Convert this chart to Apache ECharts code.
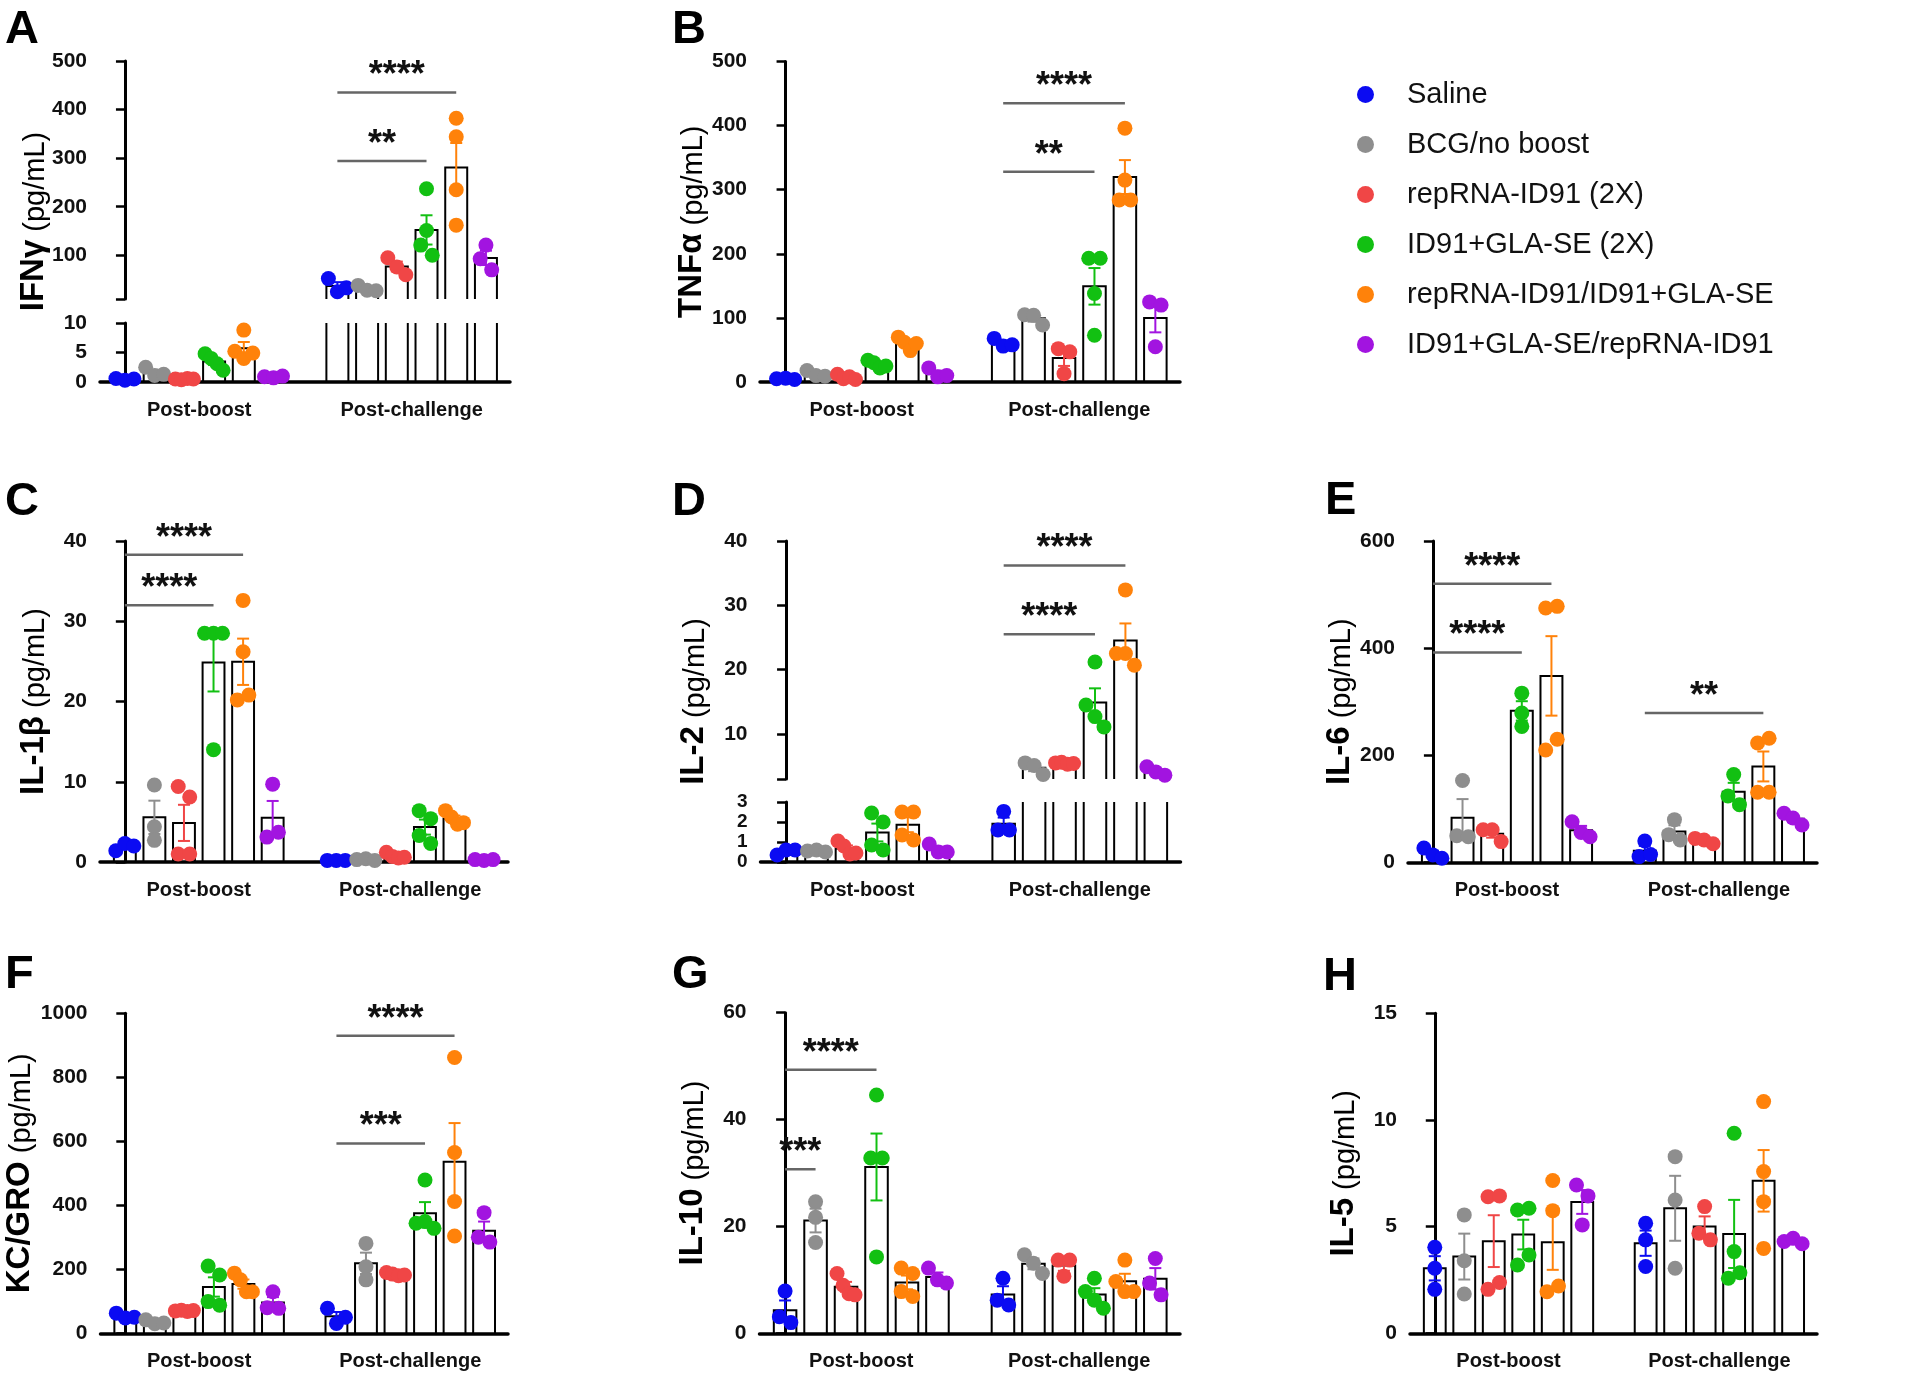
<!DOCTYPE html>
<html><head><meta charset="utf-8">
<script src="https://cdn.jsdelivr.net/npm/echarts@6/dist/echarts.min.js"></script>
<style>html,body{margin:0;padding:0;background:#fff}#c{width:1920px;height:1383px}</style>
</head><body><div id="c"></div>
<script>
// ---------------- DATA ----------------
const GROUPS = ['Saline', 'BCG/no boost', 'repRNA-ID91 (2X)', 'ID91+GLA-SE (2X)', 'repRNA-ID91/ID91+GLA-SE', 'ID91+GLA-SE/repRNA-ID91'];
const TIMEPOINTS = ['Post-boost', 'Post-challenge'];

// A  IFNγ
const ifngBoost = [[0.6,0.3,0.5],[2.5,1.1,1.3],[0.5,0.4,0.6,0.5],[4.8,4.0,3.1,2.0],[8.8,5.2,4.0,4.9],[0.9,0.7,1.0]];
const ifngChallenge = [[52,25,33],[38,28,27],[95,76,60],[237,151,121,100],[382,344,235,162],[121,93,70]];
const ifngSig = [[1,0,4,435,'****'],[1,0,3,294,'**']]; // [timepoint, fromGroup, toGroup, height, label]
const ifngTicksUpper = [10,100,200,300,400,500], ifngLabelsUpper = [100,200,300,400,500];
const ifngTicksLower = [0,5,10];

// B  TNFα
const tnfBoost = [[5,6,4],[18,10,9],[12,5,8,4],[34,30,22,25],[70,62,49,60],[22,8,10]];
const tnfChallenge = [[68,56,58],[105,104,89],[52,47,13],[193,193,138,73],[396,315,284,284],[125,120,55]];
const tnfSig = [[1,0,4,435,'****'],[1,0,3,328,'**']];
const tnfTicks = [0,100,200,300,400,500];

// C  IL-1β
const il1bBoost = [[1.4,2.3,2.0],[9.6,4.4,2.7],[9.4,8.1,1.0,1.0],[28.5,28.5,28.5,14.0],[32.6,26.2,20.2,20.8],[9.7,3.1,3.7]];
const il1bChallenge = [[0.2,0.2,0.2],[0.3,0.4,0.2],[1.2,0.7,0.5,0.6],[6.4,5.4,3.3,2.3],[6.4,5.6,4.7,4.9],[0.3,0.2,0.3]];
const il1bSig = [[0,0,4,38.3,'****'],[0,0,3,32.0,'****']];
const il1bTicks = [0,10,20,30,40];

// D  IL-2
const il2Boost = [[0.35,0.6,0.6],[0.55,0.6,0.5],[1.05,0.8,0.4,0.45],[2.45,2.0,0.85,0.6],[2.5,2.5,1.35,1.1],[0.9,0.5,0.5]];
const il2Challenge = [[2.53,1.6,1.6],[5.5,5.1,3.7],[5.5,5.6,5.3,5.4],[21.2,14.5,12.7,11.1],[32.4,22.5,22.5,20.7],[4.9,4.1,3.6]];
const il2Sig = [[1,0,4,36.2,'****'],[1,0,3,25.5,'****']];
const il2TicksUpper = [3,10,20,30,40], il2LabelsUpper = [10,20,30,40];
const il2TicksLower = [0,1,2,3];

// E  IL-6
const il6Boost = [[27,14,8],[153,50,48],[61,61,39],[316,279,254],[475,478,210,230],[76,56,48]];
const il6Challenge = [[40,11,15],[80,52,42],[45,42,35],[164,124,108],[223,232,131,131],[92,83,70]];
const il6Sig = [[0,0,4,520,'****'],[0,0,3,392,'****'],[1,0,4,279,'**']];
const il6Ticks = [0,200,400,600];

// F  KC/GRO
const kcBoost = [[63,48,50],[42,30,32],[70,72,68,71],[210,182,99,88],[188,167,130,130],[130,80,78]];
const kcChallenge = [[78,31,50],[281,208,167],[190,185,180,182],[479,344,349,328],[862,565,412,304],[377,300,285]];
const kcSig = [[1,0,4,930,'****'],[1,0,3,593,'***']];
const kcTicks = [0,200,400,600,800,1000];

// G  IL-10
const il10Boost = [[7.9,3.1,2.0],[24.6,21.7,17.0],[11.2,9.0,7.4,7.2],[44.6,32.8,32.8,14.3],[12.2,11.2,7.8,6.9],[12.2,10.0,9.4]];
const il10Challenge = [[10.3,6.2,5.3],[14.7,13.1,11.2],[13.7,13.7,10.7],[10.3,7.8,6.2,4.7],[13.7,9.7,7.8,7.8],[14.0,9.4,7.2]];
const il10Sig = [[0,0,3,49.3,'****'],[0,0,1,30.7,'***']];
const il10Ticks = [0,20,40,60];

// H  IL-5
const il5Boost = [[4.03,3.05,2.06],[5.55,3.4,1.84],[6.4,6.44,2.06,2.38],[5.78,5.86,3.2,3.67],[7.16,5.75,1.95,2.22],[6.95,6.44,5.08]];
const il5Challenge = [[5.16,4.38,3.13],[8.28,6.25,3.05],[5.94,4.69,4.38],[9.38,3.83,2.58,2.84],[10.86,7.58,6.17,3.98],[4.3,4.45,4.2]];
const il5Sig = [];
const il5Ticks = [0,5,10,15];

// ---------------- STYLE / LAYOUT ----------------
const FONT = '"Liberation Sans", Arial, Helvetica, sans-serif';
const COLORS = ['#0b0bf2', '#8e8e8e', '#f04646', '#12c012', '#ff820a', '#a214e0'];
const SLOT_GAP = 7.15, X_MIN = -0.84, X_MAX = 12.96, BAR_W = 0.74;
const DOT = 15, DOT_SPACING = 11.5, DOT_SPREAD = 18, DOT_OVERLAP = 12;

const PANELS = [
  {letter:'A', lx:5, ly:30, name:'IFNγ', left:100, right:510,
   segs:[{min:10,max:500,top:61,bottom:299,ticks:ifngTicksUpper,labels:ifngLabelsUpper},
         {min:0,max:10,top:323,bottom:382,ticks:ifngTicksLower,labels:ifngTicksLower}],
   boost:ifngBoost, challenge:ifngChallenge, sig:ifngSig},
  {letter:'B', lx:672, ly:30, name:'TNFα', left:760, right:1180,
   segs:[{min:0,max:500,top:61.5,bottom:382,ticks:tnfTicks,labels:tnfTicks}],
   boost:tnfBoost, challenge:tnfChallenge, sig:tnfSig},
  {letter:'C', lx:5, ly:502, name:'IL-1β', left:100, right:508,
   segs:[{min:0,max:40,top:541,bottom:862,ticks:il1bTicks,labels:il1bTicks}],
   boost:il1bBoost, challenge:il1bChallenge, sig:il1bSig},
  {letter:'D', lx:672, ly:502, name:'IL-2', left:760.5, right:1180.5,
   segs:[{min:3,max:40,top:541,bottom:779,ticks:il2TicksUpper,labels:il2LabelsUpper},
         {min:0,max:3,top:802,bottom:862,ticks:il2TicksLower,labels:il2TicksLower,labelSize:19}],
   boost:il2Boost, challenge:il2Challenge, sig:il2Sig},
  {letter:'E', lx:1325, ly:501, name:'IL-6', left:1408, right:1817,
   segs:[{min:0,max:600,top:541,bottom:862.5,ticks:il6Ticks,labels:il6Ticks}],
   boost:il6Boost, challenge:il6Challenge, sig:il6Sig},
  {letter:'F', lx:5, ly:975, name:'KC/GRO', left:100.5, right:508,
   segs:[{min:0,max:1000,top:1013.3,bottom:1333.3,ticks:kcTicks,labels:kcTicks}],
   boost:kcBoost, challenge:kcChallenge, sig:kcSig},
  {letter:'G', lx:672, ly:975, name:'IL-10', left:759.5, right:1180,
   segs:[{min:0,max:60,top:1012.7,bottom:1333.3,ticks:il10Ticks,labels:il10Ticks}],
   boost:il10Boost, challenge:il10Challenge, sig:il10Sig},
  {letter:'H', lx:1323, ly:977, name:'IL-5', left:1410, right:1817,
   segs:[{min:0,max:15,top:1013.3,bottom:1333.3,ticks:il5Ticks,labels:il5Ticks}],
   boost:il5Boost, challenge:il5Challenge, sig:il5Sig}
];

// ---------------- HELPERS ----------------
function stats(a){
  const n = a.length, m = a.reduce((s,v)=>s+v,0)/n;
  const sd = Math.sqrt(a.reduce((s,v)=>s+(v-m)*(v-m),0)/(n-1));
  return [m, sd/Math.sqrt(n)];
}
// spread overlapping dots sideways (pixel offsets), GraphPad-like
function jitter(py){
  const idx = py.map((p,i)=>i).sort((a,b)=>py[a]-py[b]);
  const off = new Array(py.length).fill(0);
  let cluster = [idx[0]];
  const flush = () => {
    const k = cluster.length;
    const sp = k > 1 ? Math.min(DOT_SPACING, DOT_SPREAD/(k-1)) : 0;
    cluster.slice().sort((a,b)=>a-b).forEach((id,j)=>{ off[id] = (j-(k-1)/2)*sp; });
  };
  for (let j=1;j<idx.length;j++){
    if (py[idx[j]] - py[idx[j-1]] < DOT_OVERLAP) cluster.push(idx[j]);
    else { flush(); cluster = [idx[j]]; }
  }
  flush();
  return off;
}
const nameRich = {
  n:{fontFamily:FONT, fontWeight:'bold', fontSize:33, lineHeight:34, color:'#000', verticalAlign:'bottom'},
  u:{fontFamily:FONT, fontSize:29, lineHeight:34, color:'#000', verticalAlign:'bottom'}
};
function barRender(S){
  return function(params, api){
    const x = api.value(0), m = api.value(1);
    if (m <= S.min) return null;
    const w = api.size([BAR_W, 0])[0];
    const base = api.coord([x, S.min]);
    const top = api.coord([x, Math.min(m, S.max)]);
    const xl = base[0]-w/2, xr = base[0]+w/2;
    const st = {stroke:'#000', lineWidth:2, fill:null};
    if (m <= S.max) {
      return {type:'polyline', shape:{points:[[xl,base[1]],[xl,top[1]],[xr,top[1]],[xr,base[1]]]}, style:st};
    }
    return {type:'group', children:[
      {type:'line', shape:{x1:xl,y1:base[1],x2:xl,y2:top[1]}, style:st},
      {type:'line', shape:{x1:xr,y1:base[1],x2:xr,y2:top[1]}, style:st}]};
  };
}
function errRender(S){
  return function(params, api){
    const x = api.value(0), m = api.value(1), e = api.value(2), c = COLORS[api.value(3)];
    const lo = Math.max(m-e, S.min), hi = Math.min(m+e, S.max);
    if (hi <= lo) return null;
    const p1 = api.coord([x, lo]), p2 = api.coord([x, hi]);
    const st = {stroke:c, lineWidth:2};
    const ch = [{type:'line', shape:{x1:p1[0],y1:p1[1],x2:p2[0],y2:p2[1]}, style:st}];
    const cw = 6;
    if (m+e <= S.max) ch.push({type:'line', shape:{x1:p2[0]-cw,y1:p2[1],x2:p2[0]+cw,y2:p2[1]}, style:st});
    if (m-e >= S.min) ch.push({type:'line', shape:{x1:p1[0]-cw,y1:p1[1],x2:p1[0]+cw,y2:p1[1]}, style:st});
    return {type:'group', children:ch};
  };
}
function sigRender(texts){
  return function(params, api){
    const a = api.coord([api.value(0), api.value(2)]);
    const b = api.coord([api.value(1), api.value(2)]);
    return {type:'group', children:[
      {type:'line', shape:{x1:a[0],y1:a[1],x2:b[0],y2:b[1]}, style:{stroke:'#666', lineWidth:2.5}},
      {type:'text', style:{text:texts[params.dataIndex], x:(a[0]+b[0])/2, y:a[1]+2, align:'center', verticalAlign:'bottom',
        fontFamily:FONT, fontWeight:'bold', fontSize:36, fill:'#111'}}
    ]};
  };
}

// ---------------- BUILD ----------------
const option = {
  animation:false, backgroundColor:'#fff', tooltip:{show:false},
  grid:[], xAxis:[], yAxis:[], series:[], graphic:[],
  legend:{data:GROUPS, orient:'vertical', left:1352, top:75, itemWidth:17, itemHeight:17, itemGap:21,
    icon:'circle', selectedMode:false,
    textStyle:{fontFamily:FONT, fontSize:29, lineHeight:29, color:'#111', padding:[0,0,0,28]}}
};

PANELS.forEach(P=>{
  const pitch = (P.right-P.left)/(X_MAX-X_MIN);
  const segOf = v => { for (const S of P.segs) if (v>=S.min && v<=S.max) return S; return P.segs[P.segs.length-1]; };
  const toPx = v => { const S = segOf(v); return S.bottom - (v-S.min)/(S.max-S.min)*(S.bottom-S.top); };
  const bars = [], errs = [], pts = GROUPS.map(()=>[]);
  [P.boost, P.challenge].forEach((tp,t)=>{
    tp.forEach((vals,g)=>{
      const x = g + t*SLOT_GAP;
      const [m, se] = stats(vals);
      bars.push([x, m, g]); errs.push([x, m, se, g]);
      const offs = jitter(vals.map(toPx));
      vals.forEach((v,i)=>pts[g].push([x + offs[i]/pitch, v]));
    });
  });
  const sigItems = P.sig.map(s=>[s[1]+s[0]*SLOT_GAP, s[2]+s[0]*SLOT_GAP, s[3]]);
  const richName = '{n|' + P.name + '}{u| (pg/mL)}';
  const broken = P.segs.length > 1;

  option.graphic.push({type:'text', x:P.lx, y:P.ly, style:{text:P.letter, fontFamily:FONT, fontWeight:'bold', fontSize:47, fill:'#000', align:'left', verticalAlign:'middle'}});

  if (broken) {
    const gi = option.grid.length;
    const top = P.segs[0].top, bottom = P.segs[P.segs.length-1].bottom;
    option.grid.push({left:P.left, top:top, width:P.right-P.left, height:bottom-top});
    option.xAxis.push({gridIndex:gi, type:'value', show:false, min:0, max:1});
    option.yAxis.push({gridIndex:gi, type:'value', min:0, max:1, axisLine:{show:false}, axisTick:{show:false}, axisLabel:{show:false}, splitLine:{show:false},
      name:richName, nameLocation:'middle', nameRotate:90, nameGap:50, nameTextStyle:{rich:nameRich}});
  }

  P.segs.forEach((S,si)=>{
    const gi = option.grid.length;
    const isBottom = si === P.segs.length-1;
    const ls = S.labelSize || 21;
    option.grid.push({left:P.left, top:S.top, width:P.right-P.left, height:S.bottom-S.top});
    option.xAxis.push({gridIndex:gi, type:'value', min:X_MIN, max:X_MAX, show:isBottom,
      axisLine:{show:true, onZero:false, lineStyle:{color:'#000', width:3.5}},
      axisTick:{show:false}, splitLine:{show:false},
      axisLabel:{customValues:[2.5, SLOT_GAP+2.5], formatter:v => (v < 5 ? TIMEPOINTS[0] : TIMEPOINTS[1]),
        fontFamily:FONT, fontWeight:'bold', fontSize:20, color:'#111', margin:18}});
    const y = {gridIndex:gi, type:'value', min:S.min, max:S.max,
      axisLine:{show:true, lineStyle:{color:'#000', width:3}},
      axisTick:{show:true, length:9, customValues:S.ticks, lineStyle:{color:'#000', width:2.5}},
      axisLabel:{customValues:S.labels, formatter:v => String(v), showMinLabel:true, showMaxLabel:true, hideOverlap:false,
        fontFamily:FONT, fontWeight:'bold', fontSize:ls, lineHeight:ls-2, color:'#111', margin:13},
      splitLine:{show:false}};
    if (!broken) Object.assign(y, {name:richName, nameLocation:'middle', nameRotate:90, nameGap:50, nameTextStyle:{rich:nameRich}});
    option.yAxis.push(y);

    const inSeg = v => v >= S.min && v <= S.max;
    option.series.push({type:'custom', xAxisIndex:gi, yAxisIndex:gi, z:2, silent:true, renderItem:barRender(S), data:bars});
    option.series.push({type:'custom', xAxisIndex:gi, yAxisIndex:gi, z:3, silent:true, renderItem:errRender(S), data:errs});
    GROUPS.forEach((gname,g)=>{
      option.series.push({type:'scatter', name:gname, xAxisIndex:gi, yAxisIndex:gi, z:4, silent:true,
        symbol:'circle', symbolSize:DOT, itemStyle:{color:COLORS[g], opacity:1},
        data:pts[g].filter(p=>inSeg(p[1]))});
    });
    const keep = P.sig.map((s,k)=>k).filter(k=>inSeg(P.sig[k][3]));
    if (keep.length) {
      option.series.push({type:'custom', xAxisIndex:gi, yAxisIndex:gi, z:5, silent:true,
        renderItem:sigRender(keep.map(k=>P.sig[k][4])), data:keep.map(k=>sigItems[k])});
    }
  });
});

const chart = echarts.init(document.getElementById('c'), null, {renderer:'canvas'});
chart.setOption(option);
</script></body></html>
